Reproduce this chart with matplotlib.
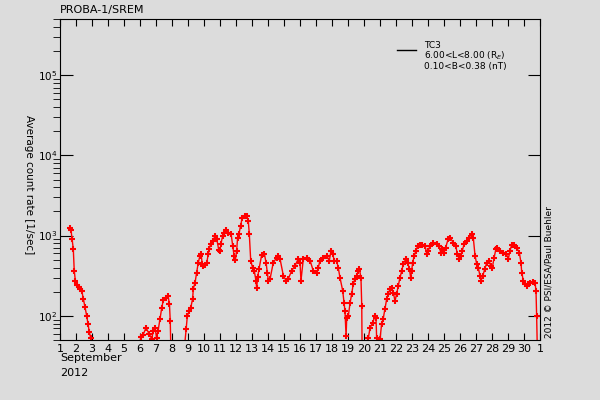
import numpy as np
import matplotlib
matplotlib.use("Agg")
import matplotlib.pyplot as plt
from matplotlib.lines import Line2D
from matplotlib.ticker import LogLocator

# Data (day of September 2012, average count rate [1/sec])
seg1_day = [1.62, 1.69, 1.75, 1.83, 1.89, 1.96, 2.06, 2.16, 2.25, 2.36, 2.46,
            2.56, 2.67, 2.75, 2.83, 2.92, 2.98]
seg1_rate = [1260, 1170, 918, 688, 365, 274, 245, 230, 217, 205, 163,
             129, 100, 79, 63, 53, 40]

seg2_day = [5.94, 6.06, 6.19, 6.38, 6.56, 6.73, 6.84, 6.94, 7.04, 7.13, 7.25,
            7.36, 7.46, 7.63, 7.75, 7.84, 7.89, 7.94]
seg2_rate = [40, 55, 58, 71, 60, 52, 65, 71, 53, 65, 92,
             126, 158, 168, 178, 141, 87, 30]

seg3_day = [8.80, 8.88, 8.96, 9.08, 9.17, 9.29, 9.33, 9.44, 9.54, 9.64, 9.75,
            9.81, 9.89, 9.96, 10.06, 10.17, 10.27, 10.33, 10.42, 10.58, 10.69,
            10.79, 10.92, 11.00, 11.06, 11.17, 11.27, 11.38, 11.52, 11.69,
            11.79, 11.88, 11.96, 12.04, 12.10, 12.19, 12.29, 12.39, 12.56,
            12.67, 12.77, 12.83, 12.92, 13.04, 13.14, 13.25, 13.29, 13.36,
            13.44, 13.61, 13.77, 13.88, 13.96, 14.02, 14.13, 14.33, 14.54,
            14.64, 14.75, 14.96, 15.13, 15.27, 15.48, 15.69, 15.90, 16.00,
            16.06, 16.21, 16.42, 16.63, 16.83, 17.04, 17.14, 17.25, 17.46,
            17.67, 17.83, 17.94, 18.04, 18.14, 18.29, 18.39, 18.50, 18.67,
            18.75, 18.81, 18.88, 18.92, 19.02, 19.13, 19.23, 19.33, 19.44,
            19.54, 19.64, 19.71, 19.81, 19.86, 19.88]
seg3_rate = [45, 68, 100, 115, 126, 163, 217, 259, 345, 460, 562,
             596, 447, 422, 434, 460, 596, 688, 794, 866, 1000,
             918, 668, 649, 794, 1000, 1090, 1190, 1090, 1060,
             750, 562, 500, 649, 944, 1060, 1334, 1680, 1778,
             1778, 1500, 1060, 487, 398, 365, 274, 224, 307,
             387, 579, 596, 460, 345, 274, 290, 460, 530,
             562, 516, 316, 274, 290, 365, 422, 516, 460,
             274, 516, 530, 487, 365, 345, 398, 487, 530,
             562, 487, 649, 596, 487, 487, 398, 299, 205,
             145, 115, 56, 94, 100, 145, 188, 250, 290,
             316, 365, 387, 299, 133, 40]

seg4_day = [20.13, 20.27, 20.38, 20.54, 20.69, 20.75, 20.79, 20.83, 21.00,
            21.10, 21.20, 21.31, 21.42, 21.52, 21.63, 21.73, 21.83, 21.94,
            22.04, 22.14, 22.25, 22.36, 22.46, 22.63, 22.73, 22.83, 22.92,
            22.98, 23.04, 23.14, 23.25, 23.36, 23.50, 23.60, 23.81, 23.92,
            24.02, 24.13, 24.33, 24.54, 24.71, 24.79, 24.89, 25.00, 25.10,
            25.27, 25.38, 25.58, 25.73, 25.83, 25.94, 26.04, 26.14, 26.27,
            26.42, 26.58, 26.73, 26.83, 26.94, 27.04, 27.14, 27.25, 27.31,
            27.42, 27.56, 27.67, 27.81, 27.92, 28.02, 28.13, 28.25, 28.33,
            28.50, 28.71, 28.88, 29.02, 29.13, 29.23, 29.38, 29.54, 29.71,
            29.81, 29.86, 29.96, 30.06, 30.17, 30.27, 30.38, 30.54, 30.69,
            30.75, 30.79, 30.83]
seg4_rate = [45, 53, 71, 82, 100, 94, 53, 40, 51,
             79, 92, 122, 163, 188, 217, 224, 194, 154,
             188, 237, 299, 365, 447, 516, 460, 387, 299,
             365, 460, 562, 649, 750, 772, 772, 750, 596,
             649, 750, 818, 794, 750, 612, 688, 612, 707,
             918, 944, 818, 750, 596, 516, 562, 649, 794,
             866, 944, 1060, 944, 562, 447, 398, 316, 274,
             316, 387, 460, 487, 422, 398, 530, 688, 707,
             649, 612, 596, 516, 649, 772, 772, 707, 612,
             460, 345, 274, 250, 237, 250, 259, 267, 259,
             205, 100, 40]

day_labels = [str(d) for d in range(1, 31)] + ["1"]

days = []
rates = []
for d, r in [(seg1_day, seg1_rate), (seg2_day, seg2_rate),
             (seg3_day, seg3_rate), (seg4_day, seg4_rate)]:
    days += d + [np.nan]
    rates += r + [np.nan]

bg = "#dcdcdc"
fig = plt.figure(figsize=(6, 4), dpi=100, facecolor=bg)
ax = fig.add_axes([0.1, 0.15, 0.8, 0.8025])
ax.set_facecolor(bg)

ax.plot(days, rates, color="red", lw=1, marker="+", ms=4, mew=1.5)

ax.set_yscale("log")
ax.set_ylim(50, 5e5)
ax.set_xlim(1, 31)
ax.yaxis.set_major_locator(LogLocator(base=10, numticks=10))
ax.yaxis.set_minor_locator(LogLocator(base=10, subs=range(2, 10), numticks=20))
ax.set_xticks(range(1, 32))
ax.set_xticklabels(day_labels)

ax.tick_params(direction="in", top=True, right=True, labelsize=8, pad=3)
ax.tick_params(axis="y", which="major", length=9, labelsize=7.5, pad=2)
ax.tick_params(axis="y", which="minor", length=5)
ax.tick_params(axis="x", which="major", length=5)
ax.tick_params(axis="x", which="minor", length=0)

fig.text(0.1, 1 - 10 / 400, "PROBA-1/SREM", fontsize=8, va="center")
fig.text(0.1, 1 - 358 / 400, "September", fontsize=8, va="center")
fig.text(0.1, 1 - 373 / 400, "2012", fontsize=8, va="center")
fig.text(29 / 600, 1 - 185 / 400, "Average count rate [1/sec]", fontsize=7.5,
         rotation=270, ha="center", va="center")
fig.text(549 / 600, 1 - 338 / 400, "2012 \u00a9 PSI/ESA/Paul Buehler",
         fontsize=6.5, rotation=90, ha="center", va="bottom")

# legend
fig.add_artist(Line2D([397 / 600, 416 / 600], [1 - 50 / 400, 1 - 50 / 400],
                      color="black", lw=1))
fig.text(424 / 600, 1 - 45 / 400, "TC3", fontsize=6.5, va="center")
fig.text(424 / 600, 1 - 56 / 400, "6.00<L<8.00 (R$_E$)", fontsize=6.5, va="center")
fig.text(424 / 600, 1 - 67 / 400, "0.10<B<0.38 (nT)", fontsize=6.5, va="center")

fig.savefig("out.png", dpi=100, facecolor=bg)
